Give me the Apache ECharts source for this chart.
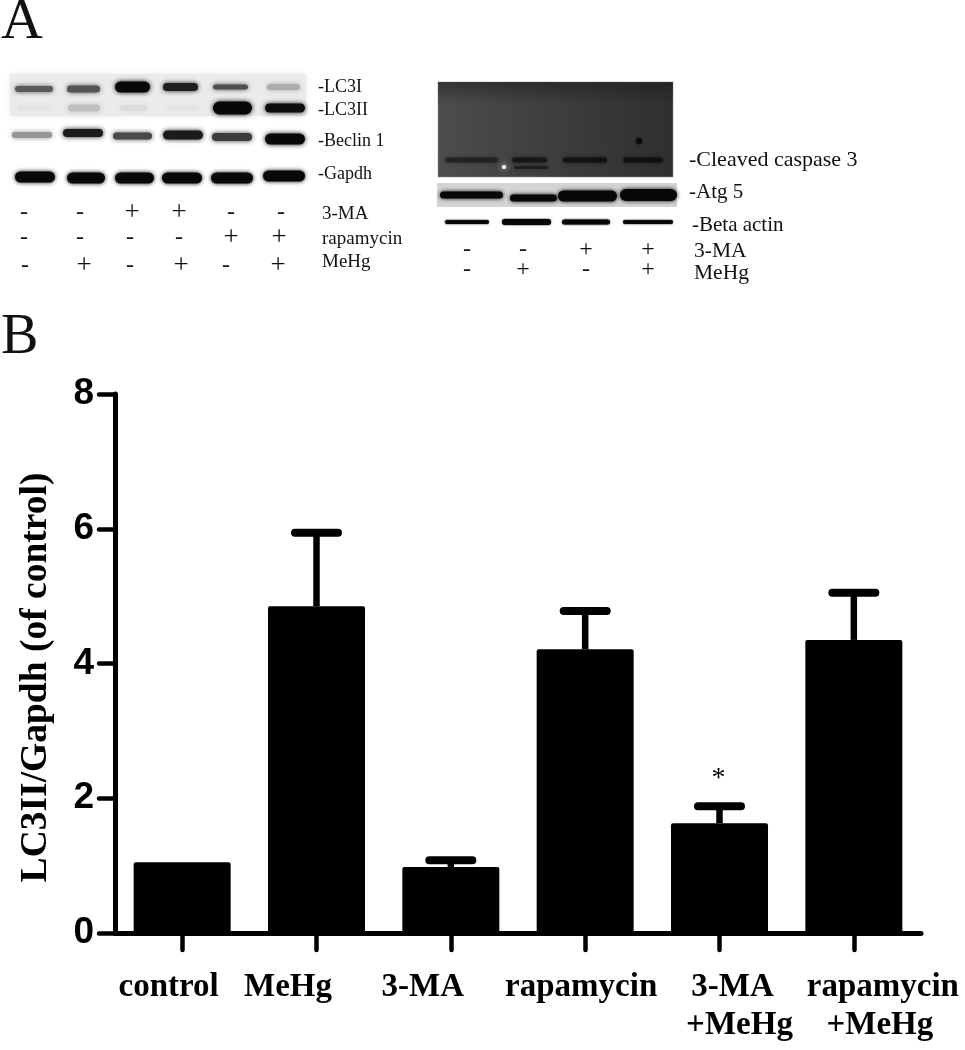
<!DOCTYPE html>
<html><head><meta charset="utf-8">
<style>html,body{margin:0;padding:0;background:#fff}#c{width:965px;height:1050px}</style>
<script src="https://cdn.jsdelivr.net/npm/echarts@6/dist/echarts.min.js"></script>
</head><body><div id="c"></div>
<script>
const categories = ['control','MeHg','3-MA','rapamycin','3-MA\n+MeHg','rapamycin\n+MeHg'];
const meanValues = [1.05,4.85,0.98,4.21,1.63,4.35];
const errorTops  = [1.05,5.94,1.08,4.78,1.88,5.05];
const significance = ['','','','','*',''];
const yTicks = [0,2,4,6,8];

const lc3I   = [.65,.68,1,.9,.7,.3];
const lc3II  = [.07,.22,.1,.07,1,.98];
const beclin = [.4,.92,.72,.92,.78,1];
const gapdh  = [1,1,1,1,1,1];
const rowMA   = ['-','-','+','+','-','-'];
const rowRapa = ['-','-','-','-','+','+'];
const rowHg   = ['-','+','-','+','-','+'];
const cleaved = [.55,.75,.9,.9];
const atg5    = [1,1,1,1];
const actin   = [1,1,1,1];
const rowMA2  = ['-','-','+','+'];
const rowHg2  = ['-','+','-','+'];

const SERIF = '"Liberation Serif","Times New Roman",serif';
const SANS = '"Liberation Sans",Arial,sans-serif';
const g = [];
const text = (t,x,y,size,extra) => g.push({type:'text',x,y,silent:true,z:20,style:Object.assign({text:t,fill:'#111',font:`${size}px ${SERIF}`,textVerticalAlign:'middle'},extra||{})});
const gray = i => {const v=Math.round(235*(1-i)+8);return `rgb(${v},${v},${v})`;};
const band = (x0,x1,cy,h,i,blur) => {const b=blur===undefined?5:blur; g.push({type:'rect',silent:true,z:5,
  shape:{x:x0,y:cy-h/2+1,width:x1-x0,height:h-2,r:(h-2)/2},
  style:{fill:gray(i),shadowBlur:b,shadowColor:gray(i)}});};

text('A',1,23,58); text('B',1,338,56);

// left blot
g.push({type:'rect',silent:true,z:1,shape:{x:10,y:74,width:296,height:42},style:{fill:'#ebebeb',shadowBlur:6,shadowColor:'#ebebeb'}});
const L1=[[15,53],[67,100],[115,150],[163,198],[213,248],[267,300]];
const L1y=[89,89,87,87,87,87], L1h=[8,9,13,10,7,8];
lc3I.forEach((v,k)=>band(L1[k][0],L1[k][1],L1y[k],L1h[k],v));
const L2=[[17,50],[68,100],[120,147],[167,197],[213,252],[265,305]];
const L2h=[7,9,8,7,15,11];
lc3II.forEach((v,k)=>band(L2[k][0],L2[k][1],108,L2h[k],v));
const L3=[[12,52],[63,103],[113,152],[163,203],[212,252],[265,305]];
const L3y=[135,133,136,135,137,139], L3h=[8,10,9,11,10,13];
beclin.forEach((v,k)=>band(L3[k][0],L3[k][1],L3y[k],L3h[k],v));
const L4=[[15,55],[67,105],[115,154],[162,202],[211,253],[263,305]];
const L4y=[177,178,178,178,178,176];
gapdh.forEach((v,k)=>band(L4[k][0],L4[k][1],L4y[k],13,v,4));
[['-LC3I',87],['-LC3II',110],['-Beclin 1',141],['-Gapdh',174]].forEach(r=>text(r[0],318,r[1],18));
[['3-MA',214],['rapamycin',239],['MeHg',262]].forEach(r=>text(r[0],322,r[1],19));
const signRow = (arr,xs,y,plus) => arr.forEach((s,k)=>text(s,xs[k],y,s==='+'?plus:24,{textAlign:'center'}));
signRow(rowMA,[24,80,132,179,231,281],213,27);
signRow(rowRapa,[24,80,130,179,231,279],238,27);
signRow(rowHg,[25,84,130,181,226,278],266,27);

// right blot
g.push({type:'rect',silent:true,z:1,shape:{x:438,y:82,width:235,height:95},style:{fill:{type:'linear',x:0,y:0,x2:1,y2:0,colorStops:[{offset:0,color:'#4d4d4d'},{offset:.35,color:'#424242'},{offset:1,color:'#2f2f2f'}]},stroke:'#888',lineWidth:.5}});
g.push({type:'rect',silent:true,z:2,shape:{x:438,y:82,width:235,height:22},style:{fill:{type:'linear',x:0,y:0,x2:0,y2:1,colorStops:[{offset:0,color:'rgba(25,25,25,.5)'},{offset:1,color:'rgba(25,25,25,0)'}]}}});
const R1=[[445,498],[512,547],[563,607],[623,663]];
cleaved.forEach((v,k)=>g.push({type:'rect',silent:true,z:5,shape:{x:R1[k][0],y:157.5,width:R1[k][1]-R1[k][0],height:5,r:2.5},style:{fill:'rgba(15,15,15,'+v+')',shadowBlur:5,shadowColor:'rgba(15,15,15,.8)'}}));
g.push({type:'rect',silent:true,z:5,shape:{x:514,y:166,width:34,height:3,r:1.5},style:{fill:'rgba(20,20,20,.7)',shadowBlur:4,shadowColor:'#222'}});
g.push({type:'circle',silent:true,z:6,shape:{cx:504,cy:167,r:2},style:{fill:'#fff',shadowBlur:5,shadowColor:'#fff'}});
g.push({type:'circle',silent:true,z:6,shape:{cx:639,cy:141,r:3},style:{fill:'#0a0a0a',shadowBlur:3,shadowColor:'#0a0a0a'}});
g.push({type:'rect',silent:true,z:1,shape:{x:437,y:183,width:240,height:24},style:{fill:'#d4d4d4'}});
const R2=[[440,503],[510,557],[558,617],[620,677]], R2y=[195,198,196,195], R2h=[9,9,13,14];
atg5.forEach((v,k)=>band(R2[k][0],R2[k][1],R2y[k],R2h[k],v,4));
const R3=[[445,489],[502,551],[562,610],[623,673]], R3h=[6,8,7,6];
actin.forEach((v,k)=>band(R3[k][0],R3[k][1],222,R3h[k],v,2));
[['-Cleaved caspase 3',689,160,22],['-Atg 5',689,192,21],['-Beta actin',692,225,21],['3-MA',694,251,21.5],['MeHg',694,273,21.5]].forEach(r=>text(r[0],r[1],r[2],r[3]));
signRow(rowMA2,[467,523,586,648],250,24);
signRow(rowHg2,[467,523,586,648],270,24);

const labelShift = [[-13.5],[-28.5],[-28],[-4],[13,20],[29,26]];
const rich = {};
labelShift.forEach((ss,k)=>ss.forEach((s,j)=>{rich[`l${k}_${j}`]={fontFamily:SERIF,fontWeight:'bold',fontSize:33,color:'#000',lineHeight:38,
  padding: s>=0?[0,0,0,2*s]:[0,-2*s,0,0]};}));

const chart = echarts.init(document.getElementById('c'),null,{renderer:'canvas'});
chart.setOption({
  animation:false,backgroundColor:'#fff',
  grid:{left:115,top:394,width:806,height:539,containLabel:false,outerBoundsMode:'none'},
  graphic:g,
  xAxis:{type:'category',data:categories,boundaryGap:true,
    axisLine:{show:true,onZero:true,lineStyle:{color:'#000',width:5,cap:'round'}},
    axisTick:{show:true,alignWithLabel:true,length:17,lineStyle:{color:'#000',width:4.5,cap:'round'}},
    axisLabel:{margin:35,interval:0,hideOverlap:false,lineHeight:38,
      formatter:(v,k)=>v.split('\n').map((p,j)=>`{l${k}_${j}|${p}}`).join('\n'),rich},
    splitLine:{show:false}},
  yAxis:{type:'value',min:0,max:8,interval:2,
    name:'LC3II/Gapdh (of control)',nameLocation:'middle',nameRotate:90,nameGap:60,
    nameTextStyle:{fontFamily:SERIF,fontWeight:'bold',fontSize:37.5,color:'#000',padding:[0,28,0,0]},
    axisLine:{show:true,lineStyle:{color:'#000',width:5}},
    axisTick:{show:true,length:16,lineStyle:{color:'#000',width:4.5,cap:'round'}},
    axisLabel:{margin:21,padding:[4,0,0,0],fontFamily:SANS,fontWeight:'bold',fontSize:37,color:'#000',formatter:v=>yTicks.includes(v)?String(v):''},
    splitLine:{show:false}},
  series:[
    {type:'bar',data:meanValues,barWidth:97,itemStyle:{color:'#000',borderRadius:[2,2,0,0]},z:3},
    {type:'custom',z:4,data:errorTops.map((t,k)=>[k,meanValues[k],t,significance[k]]),encode:{x:0,y:[1,2]},
     renderItem:(p,api)=>{
       const base=api.coord([api.value(0),api.value(1)]), top=api.coord([api.value(0),api.value(2)]);
       const ch=[];
       if(api.value(2)>api.value(1)){
         ch.push({type:'line',shape:{x1:base[0],y1:base[1],x2:top[0],y2:top[1]},style:{stroke:'#000',lineWidth:6.5}});
         ch.push({type:'line',shape:{x1:top[0]-21.5,y1:top[1],x2:top[0]+21.5,y2:top[1]},style:{stroke:'#000',lineWidth:8,lineCap:'round'}});
       }
       const s=significance[p.dataIndex];
       if(s) ch.push({type:'text',x:top[0]-1,y:top[1]-28,style:{text:s,font:`28px ${SERIF}`,fill:'#000',textAlign:'center',textVerticalAlign:'middle'}});
       return {type:'group',children:ch};
     }}
  ]
});
</script></body></html>
